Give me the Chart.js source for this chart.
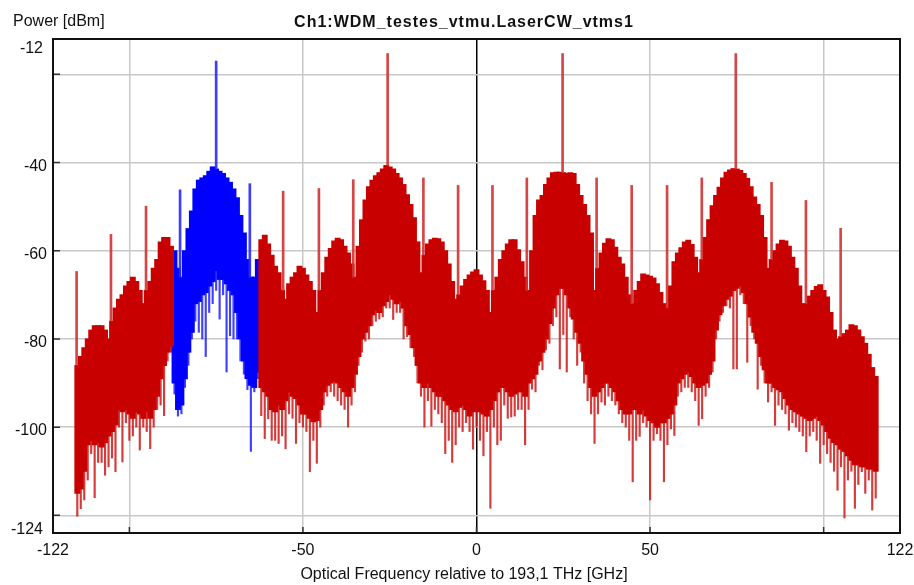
<!DOCTYPE html>
<html lang="en">
<head>
<meta charset="UTF-8">
<title>Ch1:WDM_testes_vtmu.LaserCW_vtms1</title>
<style>
  html, body { margin: 0; padding: 0; background: #fff; }
</style>
</head>
<body>
<canvas id="spectrum" width="914" height="585"></canvas>
<script src="https://cdn.jsdelivr.net/npm/chart.js"></script>
<script>
// spectrum, one bin per GHz from -115 to 115
const firstBin = -115;

// upper envelope of the trace [dBm]
const upper = [
  -86, -84, -82, -80, -78, -77, -77, -77, -78, -80,            // -115
  -76, -73, -71, -70, -68, -67, -66, -67, -69, -72,            // -105
  -69, -67, -64, -62, -58, -57, -57, -59, -60, -64,            // -95
  -66, -60, -55, -51, -46, -44, -43.5, -43, -42, -41,          // -85
  -41.5, -42, -42.5, -43.5, -44.5, -46, -48, -52, -56, -62,    // -75
  -66, -66, -62, -57.5, -56.5, -58.5, -61, -63.5, -65, -69,    // -65
  -71, -67.5, -66, -65, -63.5, -64, -65.5, -67, -69, -74,      // -55
  -69, -65, -61.5, -59.5, -57.8, -57.2, -57.5, -59, -60.5, -63, // -45
  -66, -59, -53, -48.5, -45.5, -44, -43, -42.3, -41.5, -40.7,  // -35
  -41, -41.5, -42.5, -43.5, -45, -47.3, -49.5, -52.5, -58, -65, // -25
  -61, -58.5, -57.5, -57.2, -57.3, -58, -60, -63, -67, -71,    // -15
  -70, -68, -66.5, -65.5, -64.8, -64.3, -65.5, -66.8, -69, -74, // -5
  -69, -66, -62, -60, -58.5, -57.5, -57.5, -59.8, -62.5, -66,  // 5
  -69, -60, -52, -48.5, -47.5, -45, -43.5, -42.3, -42.2, -42.2, // 15
  -42.3, -42.5, -42.3, -42.5, -45, -47.5, -49.5, -52, -56, -69, // 25
  -64, -60.5, -58.3, -57.3, -57.5, -59.2, -61.5, -63, -66, -70, // 35
  -72, -69, -67, -65.3, -65.5, -65.8, -66.2, -67.5, -69.5, -72, // 45
  -73, -68, -62.5, -60.5, -59.3, -58, -57.6, -58.6, -61.5, -65, // 55
  -62, -57, -53, -49.8, -47.5, -45.6, -43.5, -42.2, -41.7, -41.4, // 65
  -41.5, -41.8, -42.5, -43.6, -45.5, -47.8, -49.5, -52, -57, -64, // 75
  -62, -60, -58.5, -57.6, -57.8, -59, -61.5, -64, -68, -72,    // 85
  -72, -70.3, -69, -68.1, -67.7, -69, -70.5, -74, -78, -80,    // 95
  -79.5, -78.8, -78, -76.8, -77, -78, -79.5, -81, -83.5, -86.5, // 105
  -88.5                                                        // 115
];

// lower edge of the solid band [dBm]
const lower = [
  -115, -114, -110, -104, -103, -104, -103.5, -104.5, -103.5, -102,
  -101, -99.5, -96, -96.5, -96, -97, -98, -96.5, -97, -98,
  -96.5, -98, -96, -93, -89, -86, -83, -81.6, -90, -96,
  -95, -89, -83, -78.5, -72, -71.5, -70, -69.5, -68, -67,
  -64.5, -66.5, -66.5, -67.5, -69, -70, -74, -80, -85, -89,
  -90.5, -91, -87.5, -91, -92, -93, -96, -96.5, -95, -96,
  -94, -92, -93, -93.5, -95, -97, -97, -98, -98.8, -98.5,
  -96, -92, -90.5, -90, -89.5, -90, -91, -92, -93, -91,
  -88, -84, -80, -78.5, -77, -74.5, -73.5, -74, -72.5, -71.5,
  -70, -71, -72, -71.5, -73, -77, -79, -82, -86, -90,
  -91, -90, -91, -92, -93, -93, -94, -95, -96, -96.5,
  -95.5, -95, -96, -97.5, -96.5, -96, -96.5, -97, -97.5, -96,
  -94, -92, -91, -91, -92, -93, -92.5, -92, -92, -93,
  -90, -89, -88, -85, -83, -80, -76.5, -73, -70, -68.5,
  -68.5, -70, -73, -75.5, -78.5, -81, -85, -88, -91, -93,
  -92, -91, -90, -90, -91, -92, -94, -96, -97, -97,
  -96, -96, -97, -96, -97.5, -98.5, -99, -100, -99, -99,
  -98, -97, -95, -90, -89, -88, -87.5, -88.5, -90, -91,
  -90.5, -90, -88, -85, -78, -74.5, -72.5, -71, -70.3, -69,
  -68.5, -68, -69.5, -72, -75, -78.5, -81, -84, -87, -90,
  -90, -91, -91.5, -92, -93.5, -95, -96, -96.5, -97, -97.5,
  -98, -98.5, -98, -97.5, -98.5, -99.5, -101, -102.5, -103.5, -104,
  -105, -105.5, -106.5, -107.5, -108.5, -108.5, -109, -109, -109.5, -109.5,
  -110
];

// deepest thin line in each bin [dBm]
const deepest = [
  -120.2, -118.5, -116.5, -112, -106, -116, -108, -108, -110.9, -109,
  -107, -110.1, -100, -107.9, -99, -103, -102, -100, -105.2, -100,
  -101, -104.9, -100, -96, -95, -97.4, -85, -83, -92.5, -97.5,
  -97, -91, -86, -80, -76, -78.5, -80, -84, -74, -72,
  -69, -75.5, -70, -87.5, -79.3, -80, -80, -85, -88, -91.5,
  -105.5, -92, -89, -97.4, -102.6, -98.1, -103, -103, -103.7, -102,
  -104.9, -97, -98, -103.7, -99, -100, -101, -110.1, -103, -108.2,
  -100, -95, -93, -92, -93, -94, -95, -96, -100, -95,
  -92, -86, -83, -80.5, -80, -77, -76, -75.5, -75, -73,
  -73, -75.6, -74, -74, -80, -79.5, -82, -84, -90, -93,
  -100, -94, -99.8, -96, -97, -99, -106, -103, -108, -104,
  -100, -101, -99, -101, -105, -100, -103, -106.5, -101, -118.4,
  -100, -104, -103, -95, -98, -97.7, -97.5, -96, -96, -104,
  -96, -91.4, -92, -86, -87, -82.5, -81, -77, -75, -86.8,
  -79, -87.5, -75, -80, -86, -83, -90, -94, -97, -103.7,
  -97, -94.3, -95, -93, -94, -95, -97, -99, -100, -103,
  -112.4, -103, -102.1, -99, -100, -116.5, -103, -101.5, -103, -112.4,
  -104, -100.4, -101.9, -93, -92, -91, -91, -92, -94, -99.6,
  -98.1, -93, -91, -87.5, -80, -76, -74, -72.5, -73, -86.8,
  -86.8, -70, -72, -85.3, -77, -80, -91.4, -86, -90, -94.3,
  -92, -99.6, -95, -96, -97, -100.7, -99, -100, -101, -102,
  -105.6, -102, -101, -103, -108.2, -104, -106, -108, -110, -114.3,
  -109, -120.6, -112, -110, -118.4, -113, -110.1, -115, -112, -118.8,
  -116.1
];

// the selected channel (blue) covers these bins
const blueFrom = -87;
const blueTo = -63;

// carrier / clock tones
const toneFreq = [-115.2, -105.3, -95.2, -85.4, -75, -65.3, -55.7, -45.4, -35.5, -25.6, -15.3, -5.3,
                  4.6, 14.5, 24.8, 34.6, 44.7, 54.9, 64.9, 74.7, 85, 94.9, 104.9];
const tonePeak = [-64.7, -56.3, -49.9, -46.2, -17, -44.8, -46.5, -45.9, -43.9, -15.3, -43.5, -45.2,
                  -45.2, -43.5, -15.3, -43.5, -45.2, -45.2, -43.5, -15.3, -44.5, -48.6, -54.9];

// axes
const xGrid = [-100, -50, 0, 50, 100];
const xLabels = [-122, -50, 0, 50, 122];
const yGrid = [-20, -40, -60, -80, -100, -120];
const yLabels = [-12, -40, -60, -80, -100, -124];

const RED = '#c80000';
const BLUE = '#0000ff';

const redBody = [], redDip = [], blueBody = [], blueDip = [];
upper.forEach((t, i) => {
  const f = firstBin + i;
  const inBlue = f >= blueFrom && f <= blueTo;
  (inBlue ? blueBody : redBody).push({ x: f, y: [lower[i], t] });
  (inBlue ? blueDip : redDip).push({ x: f, y: [deepest[i], lower[i]] });
});

const redTones = [], blueTones = [];
toneFreq.forEach((f, i) => {
  const bin = Math.round(f);
  const base = upper[bin - firstBin];
  const pt = { x: f, y: [base, tonePeak[i]] };
  (bin >= blueFrom && bin <= blueTo ? blueTones : redTones).push(pt);
});

const FONT = "'Liberation Sans', Arial, sans-serif";

const decorations = {
  id: 'decorations',
  afterDatasetsDraw(chart) {
    const { ctx, chartArea: a, scales: { x, y } } = chart;
    ctx.save();
    ctx.strokeStyle = '#333';
    ctx.lineWidth = 1.5;
    ctx.beginPath();
    xGrid.forEach(v => {
      const px = x.getPixelForValue(v);
      ctx.moveTo(px, a.bottom);
      ctx.lineTo(px, a.bottom - 6);
    });
    yGrid.forEach(v => {
      const py = y.getPixelForValue(v);
      ctx.moveTo(a.left, py);
      ctx.lineTo(a.left + 7, py);
    });
    ctx.stroke();
    ctx.strokeStyle = '#111';
    ctx.lineWidth = 2;
    ctx.strokeRect(a.left, a.top, a.right - a.left, a.bottom - a.top);
    ctx.restore();
  },
  afterDraw(chart) {
    const { ctx, chartArea: a, scales: { x, y } } = chart;
    ctx.save();
    ctx.fillStyle = '#111';
    ctx.font = '16px ' + FONT;
    ctx.textBaseline = 'alphabetic';

    // y tick labels, end labels pulled inside the frame
    ctx.textAlign = 'right';
    yLabels.forEach(v => {
      let py = y.getPixelForValue(v) + 8;
      let px = a.left - 6;
      if (v === y.max) { py = a.top + 14; px = a.left - 10; }
      if (v === y.min) { py = a.bottom + 1; px = a.left - 10; }
      ctx.fillText(String(v), px, py);
    });

    // x tick labels
    ctx.textAlign = 'center';
    xLabels.forEach(v => ctx.fillText(String(v), x.getPixelForValue(v), a.bottom + 22));

    // axis titles
    ctx.textAlign = 'left';
    ctx.fillText('Power [dBm]', 13, 26);
    ctx.textAlign = 'center';
    ctx.fillText('Optical Frequency relative to 193,1 THz [GHz]', 464, 579);

    ctx.font = 'bold 16px ' + FONT;
    ctx.letterSpacing = '1px';
    ctx.fillText('Ch1:WDM_testes_vtmu.LaserCW_vtms1', 464, 26.5);
    ctx.restore();
  }
};

new Chart(document.getElementById('spectrum'), {
  type: 'bar',
  data: {
    datasets: [
      { data: redTones, xAxisID: 'xt', backgroundColor: 'rgba(210,50,50,0.9)', barThickness: 2 },
      { data: blueTones, xAxisID: 'xt', backgroundColor: 'rgba(40,40,255,0.9)', barThickness: 2 },
      { data: redBody, backgroundColor: RED, barPercentage: 1.4, categoryPercentage: 1, inflateAmount: 0.5 },
      { data: blueBody, backgroundColor: BLUE, barPercentage: 1.4, categoryPercentage: 1, inflateAmount: 0.5 },
      { data: redDip, backgroundColor: 'rgba(205,25,25,0.85)', barThickness: 1.5 },
      { data: blueDip, backgroundColor: 'rgba(30,30,255,0.85)', barThickness: 1.5 }
    ]
  },
  options: {
    responsive: false,
    animation: false,
    devicePixelRatio: 1,
    layout: { padding: { left: 53, right: 14, top: 39, bottom: 52 } },
    datasets: { bar: { grouped: false, borderWidth: 0 } },
    plugins: {
      legend: { display: false },
      tooltip: { enabled: false },
      title: { display: false }
    },
    scales: {
      x: {
        type: 'linear',
        min: -122,
        max: 122,
        offset: false,
        afterBuildTicks: s => { s.ticks = [-122, ...xGrid, 122].map(v => ({ value: v })); },
        ticks: { display: false },
        border: { display: false },
        grid: {
          offset: false,
          drawTicks: false,
          color: c => c.tick.value === 0 ? '#000' : (xGrid.includes(c.tick.value) ? '#c8c8c8' : 'rgba(0,0,0,0)'),
          lineWidth: 1.5
        }
      },
      xt: {
        type: 'linear',
        min: -122,
        max: 122,
        offset: false,
        display: false,
        grid: { offset: false }
      },
      y: {
        type: 'linear',
        min: -124,
        max: -12,
        beginAtZero: false,
        afterBuildTicks: s => { s.ticks = [-124, ...yGrid, -12].map(v => ({ value: v })); },
        ticks: { display: false },
        border: { display: false },
        grid: {
          drawTicks: false,
          color: c => yGrid.includes(c.tick.value) ? '#c8c8c8' : 'rgba(0,0,0,0)',
          lineWidth: 1.5
        }
      }
    }
  },
  plugins: [decorations]
});
</script>
</body>
</html>
